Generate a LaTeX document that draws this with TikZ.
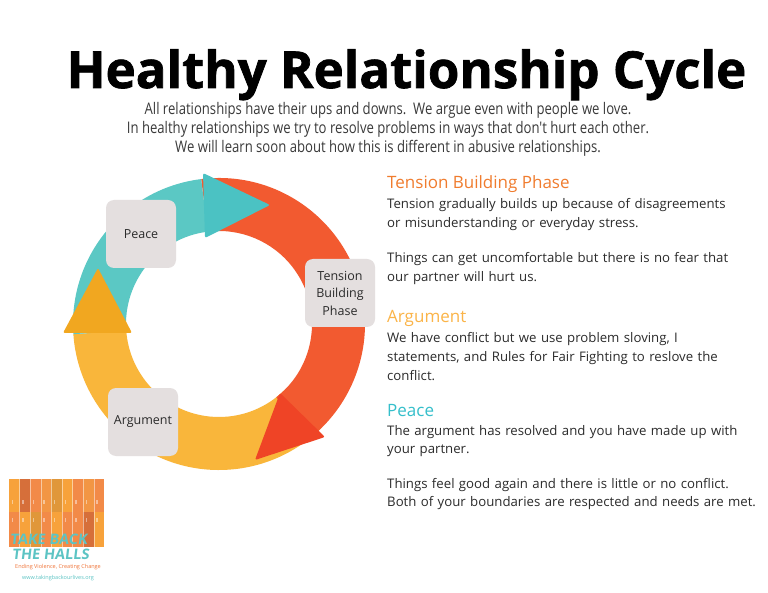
\documentclass[tikz,border=0pt]{standalone}
\usepackage{fontspec}
\setmainfont{Open Sans}
\newfontfamily\titlefont{Open Sans}[BoldFeatures={FakeBold=1.4}]
\newfontfamily\subfont{Open Sans}[FakeStretch=0.82]
\newfontfamily\logofont{Open Sans}[BoldFeatures={FakeSlant=0.12}]
\definecolor{tealseg}{HTML}{5BC8C4}
\definecolor{tealhead}{HTML}{4BC2C3}
\definecolor{redseg}{HTML}{F25A30}
\definecolor{redhead}{HTML}{EF4426}
\definecolor{yelseg}{HTML}{F9B63B}
\definecolor{yelhead}{HTML}{F1A720}
\definecolor{boxgray}{HTML}{E4DFDF}
\definecolor{txtgray}{HTML}{2B2B2B}
\definecolor{subgray}{HTML}{3A3A3A}
\definecolor{hdorange}{HTML}{F07C2E}
\definecolor{hdyellow}{HTML}{FBB448}
\definecolor{hdteal}{HTML}{35BFCB}
\definecolor{lkA}{HTML}{F7A23B}
\definecolor{lkB}{HTML}{D66F3A}
\definecolor{lkC}{HTML}{F28A48}
\definecolor{lkD}{HTML}{E0973A}
\definecolor{lkE}{HTML}{F29644}
\definecolor{logoteal}{HTML}{5CC4C4}
\definecolor{logoorange}{HTML}{F0753A}
\begin{document}
\begin{tikzpicture}[x=1pt,y=1pt,
		intro/.style={anchor=base,inner sep=0pt,text=subgray,font=\subfont\fontsize{16}{19}\selectfont},
		head/.style={anchor=base west,inner sep=0pt,font=\fontsize{17}{20}\selectfont},
		body/.style={anchor=base west,inner sep=0pt,text width=370pt,align=left,text=txtgray,font=\fontsize{13.2}{18.5}\selectfont},
		phasebox/.style={fill=boxgray,rounded corners=8pt,minimum width=70pt,minimum height=68pt,inner sep=0pt,align=center,text=txtgray,font=\fontsize{12.5}{17.5}\selectfont},
		arrowhead/.style={rounded corners=2pt},
		logobig/.style={anchor=base west,inner sep=0pt,text=logoteal,font=\logofont\bfseries\fontsize{14.5}{15}\selectfont}]
			\useasboundingbox (0,0) rectangle (768,-593);
			\fill[white] (0,0) rectangle (768,-593);
			% title and introduction
			\node[anchor=base,inner sep=0pt] (title) at (406.5,-88) {\titlefont\bfseries\fontsize{51}{60}\selectfont Healthy Relationship Cycle};
			\node[intro] (intro1) at (388,-115) {All relationships have their ups and downs.\ \ We argue even with people we love.};
			\node[intro] (intro2) at (388,-134) {In healthy relationships we try to resolve problems in ways that don't hurt each other.};
			\node[intro] (intro3) at (388,-153) {We will learn soon about how this is different in abusive relationships.};
			% the cycle
			\begin{scope}[shift={(219,-324)}]
				\fill[yelseg] (184:146) arc[start angle=184,end angle=315,radius=146] -- (315:93) arc[start angle=315,end angle=184,radius=93] -- cycle;
				\fill[redseg] (97:146) arc[start angle=97,end angle=-52,radius=146] -- (-52:93) arc[start angle=-52,end angle=97,radius=93] -- cycle;
				\fill[tealseg] (97:146) arc[start angle=97,end angle=184,radius=146] -- (184:93) arc[start angle=184,end angle=97,radius=93] -- cycle;
			\end{scope}
			\fill[tealhead,arrowhead] (203,-173) -- (270,-205) -- (205,-238) -- cycle;
			\fill[redhead,arrowhead] (280,-393) -- (325,-437) -- (255,-460) -- cycle;
			\fill[yelhead,arrowhead] (63,-333) -- (98,-268) -- (132,-333) -- cycle;
			\node[phasebox] (peace) at (141,-234) {Peace};
			\node[phasebox] (tension) at (340,-293) {Tension\\Building\\Phase};
			\node[phasebox] (argument) at (143,-422) {Argument};
			% phase descriptions
			\node[head,text=hdorange] (hTension) at (387,-189) {Tension Building Phase};
			\node[body] (tTension1) at (387,-209) {Tension gradually builds up because of disagreements\\or misunderstanding or everyday stress.};
			\node[body] (tTension2) at (387,-263) {Things can get uncomfortable but there is no fear that\\our partner will hurt us.};
			\node[head,text=hdyellow] (hArgument) at (387,-323) {Argument};
			\node[body] (tArgument) at (387,-343) {We have conflict but we use problem sloving, I\\statements, and Rules for Fair Fighting to reslove the\\conflict.};
			\node[head,text=hdteal] (hPeace) at (387,-416) {Peace};
			\node[body] (tPeace1) at (387,-435) {The argument has resolved and you have made up with\\your partner.};
			\node[body] (tPeace2) at (387,-488) {Things feel good again and there is little or no conflict.\\Both of your boundaries are respected and needs are met.};
			% logo
			\foreach \c [count=\i] in {lkA,lkB,lkC,lkE,lkD,lkA,lkC,lkE,lkC}{
				\fill[\c] ({9+(\i-1)*10.6},-479) rectangle ++(10.6,-33);
				\fill[white,opacity=0.45] ({11.5+(\i-1)*10.6},-500) rectangle ++(1.5,-4);
			}
			\foreach \c [count=\i] in {lkC,lkA,lkD,lkC,lkA,lkC,lkC,lkB,lkA}{
				\fill[\c] ({9+(\i-1)*10.6},-512) rectangle ++(10.6,-35);
				\fill[white,opacity=0.45] ({11.5+(\i-1)*10.6},-518) rectangle ++(1.5,-4);
			}
			\foreach \i in {1,...,8}
				\draw[white,opacity=0.5,line width=0.3pt] ({9+\i*10.6},-479) -- ({9+\i*10.6},-547);
			\node[logobig] (logo1) at (10,-544.5) {TAKE BACK};
			\node[logobig] (logo2) at (12,-559) {THE HALLS};
			\node[inner sep=0pt,text=logoorange,font=\fontsize{5.5}{6}\selectfont] (logo3) at (58,-567) {Ending Violence, Creating Change};
			\node[inner sep=0pt,text=logoteal,font=\fontsize{5.5}{6}\selectfont] (logo4) at (58,-578) {www.takingbackourlives.org};
		\end{tikzpicture}
\end{document}
